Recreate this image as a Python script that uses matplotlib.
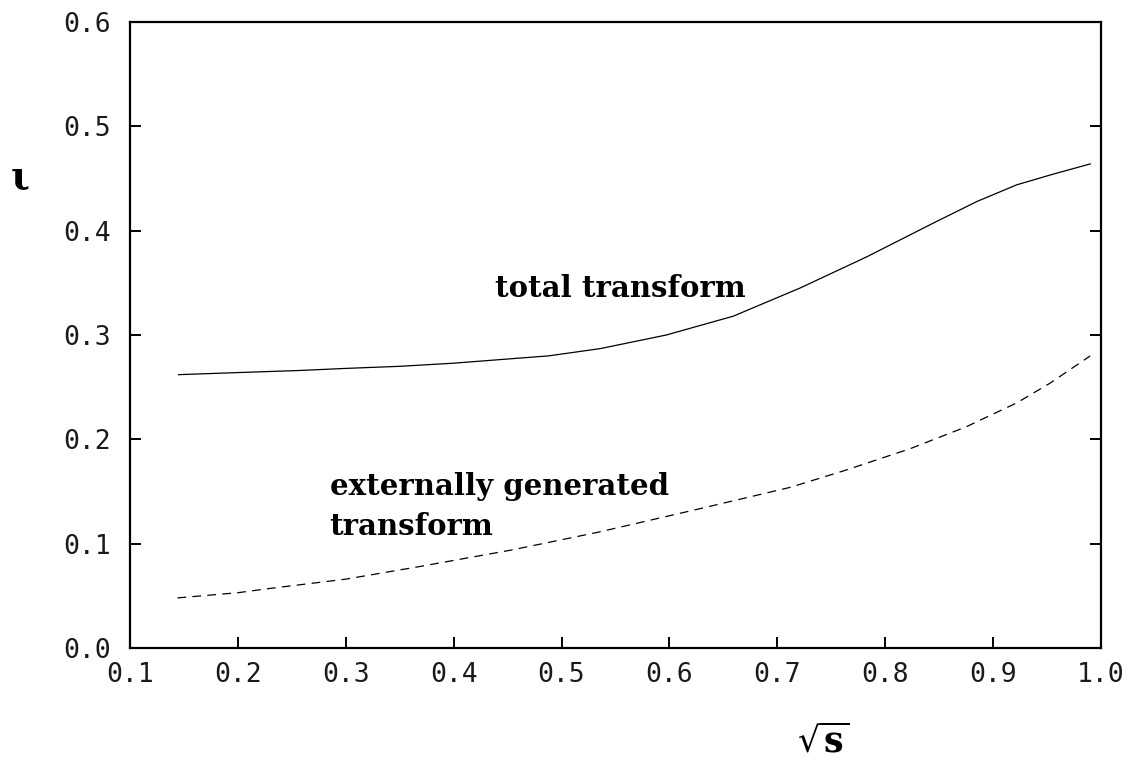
import matplotlib
matplotlib.use("Agg")
import matplotlib.pyplot as plt

plt.rcParams["mathtext.fontset"] = "dejavuserif"

# Data
x_total = [0.145, 0.20, 0.257, 0.30, 0.35, 0.40, 0.45, 0.488, 0.536, 0.597, 0.659, 0.721, 0.783, 0.844, 0.885, 0.922, 0.955, 0.990]
y_total = [0.262, 0.264, 0.266, 0.268, 0.270, 0.273, 0.277, 0.280, 0.287, 0.300, 0.318, 0.345, 0.375, 0.407, 0.428, 0.444, 0.454, 0.464]

x_ext = [0.144, 0.20, 0.229, 0.30, 0.368, 0.454, 0.534, 0.626, 0.712, 0.762, 0.823, 0.875, 0.922, 0.953, 0.990]
y_ext = [0.048, 0.053, 0.057, 0.066, 0.078, 0.094, 0.111, 0.133, 0.154, 0.170, 0.191, 0.212, 0.235, 0.254, 0.280]

xticks = [0.1, 0.2, 0.3, 0.4, 0.5, 0.6, 0.7, 0.8, 0.9, 1.0]
yticks = [0.0, 0.1, 0.2, 0.3, 0.4, 0.5, 0.6]

fig = plt.figure(figsize=(11.36, 7.73), dpi=100)
ax = fig.add_axes([0.1144, 0.1617, 0.9692 - 0.1144, 0.9715 - 0.1617])

ax.plot(x_total, y_total, color="black", lw=0.9)
ax.plot(x_ext, y_ext, color="black", lw=0.9, dashes=(7, 5))

ax.set_xlim(0.1, 1.0)
ax.set_ylim(0.0, 0.6)
ax.set_xticks(xticks)
ax.set_yticks(yticks)
ax.set_xticklabels([f"{v:.1f}" for v in xticks])
ax.set_yticklabels([f"{v:.1f}" for v in yticks])

for s in ax.spines.values():
    s.set_linewidth(1.6)

ax.tick_params(axis="both", direction="in", length=8, width=1.4,
               labelsize=19, pad=14, labelcolor="#1a1a1a")
ax.tick_params(axis="y", right=True, left=True)
ax.tick_params(axis="x", top=False, pad=10)
for lab in ax.get_xticklabels() + ax.get_yticklabels():
    lab.set_family("DejaVu Sans Mono")

serif = dict(family="DejaVu Serif", fontweight="bold", fontsize=21, color="black")
ax.text(0.438, 0.336, "total transform", ha="left", va="baseline", **serif)
ax.text(0.285, 0.147, "externally generated", ha="left", va="baseline", **serif)
ax.text(0.285, 0.108, "transform", ha="left", va="baseline", **serif)

fig.text(20 / 1136, 1 - 178 / 773, "ι", ha="center", va="center",
         family="DejaVu Serif", fontweight="bold", fontsize=28, color="black")
fig.text(823 / 1136, 1 - 742 / 773, r"$\sqrt{\mathbf{s}}$", ha="center", va="center",
         fontsize=25, color="black")

fig.savefig("out.png", dpi=100)
